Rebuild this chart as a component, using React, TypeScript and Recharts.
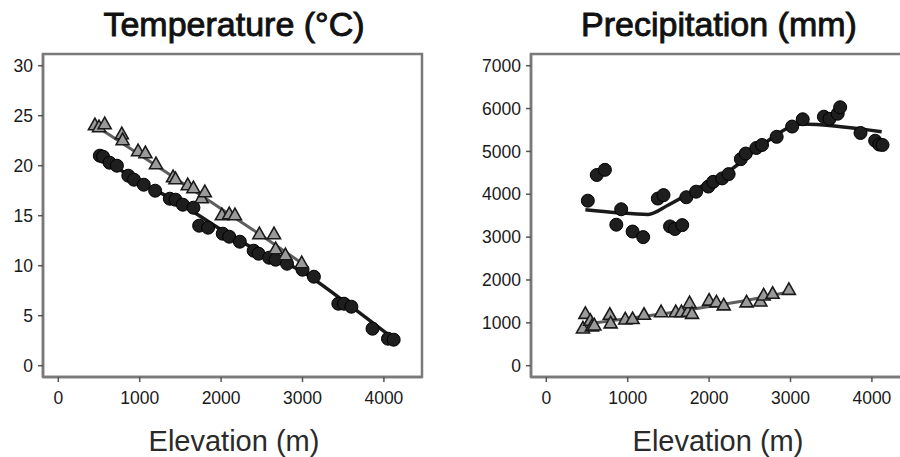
import React from 'react';
import { ComposedChart, Scatter, Line, XAxis, YAxis, ReferenceArea } from 'recharts';

// ---- Temperature panel data ----
const tempCircleElev = [510, 550, 630, 720, 860, 930, 1050, 1190, 1370, 1440, 1530, 1660, 1730, 1840, 2020, 2100, 2230, 2400, 2460, 2590, 2670, 2810, 3000, 3140, 3440, 3510, 3600, 3860, 4050, 4120];
const tempCircleVal = [21.0, 20.9, 20.3, 20.0, 19.0, 18.6, 18.1, 17.5, 16.7, 16.6, 16.1, 15.8, 14.0, 13.8, 13.2, 12.9, 12.4, 11.5, 11.2, 10.8, 10.6, 10.2, 9.6, 8.9, 6.2, 6.2, 5.9, 3.7, 2.7, 2.6];
const tempTriElev = [450, 500, 570, 780, 790, 980, 1070, 1200, 1410, 1440, 1590, 1660, 1760, 1800, 2010, 2100, 2170, 2470, 2650, 2670, 2790, 2990];
const tempTriVal = [24.1, 23.9, 24.2, 23.2, 22.6, 21.5, 21.3, 20.2, 18.9, 18.7, 18.1, 17.8, 16.8, 17.4, 15.1, 15.2, 15.1, 13.2, 13.2, 11.7, 11.1, 10.3];
const tempCircleFitElev = [490, 1000, 1500, 2000, 2500, 3000, 3500, 4150];
const tempCircleFitVal = [21.0, 18.4, 16.2, 13.6, 11.3, 9.4, 6.5, 2.5];
const tempTriFitElev = [440, 1000, 1500, 2000, 2500, 3000];
const tempTriFitVal = [24.1, 21.1, 18.4, 15.7, 13.0, 10.2];

// ---- Precipitation panel data ----
const precCircleElev = [510, 620, 720, 860, 920, 1060, 1190, 1370, 1440, 1520, 1580, 1670, 1720, 1840, 1990, 2050, 2160, 2240, 2390, 2450, 2580, 2650, 2830, 3020, 3150, 3410, 3480, 3580, 3610, 3860, 4040, 4090, 4130];
const precCircleVal = [3850, 4450, 4570, 3290, 3650, 3130, 3000, 3900, 3980, 3250, 3190, 3280, 3930, 4060, 4180, 4290, 4370, 4470, 4820, 4950, 5080, 5150, 5340, 5580, 5750, 5810, 5760, 5880, 6030, 5430, 5250, 5160, 5150];
const precTriElev = [450, 480, 540, 560, 590, 780, 790, 970, 1060, 1200, 1410, 1590, 1660, 1740, 1760, 1790, 2000, 2090, 2180, 2460, 2630, 2670, 2780, 2980];
const precTriVal = [880, 1220, 1060, 930, 950, 1200, 1000, 1090, 1100, 1200, 1260, 1260, 1260, 1270, 1470, 1220, 1530, 1490, 1420, 1490, 1510, 1650, 1690, 1780];
const precCircleFitElev = [480, 870, 1250, 1500, 1900, 2250, 2650, 3150, 3650, 4120];
const precCircleFitVal = [3640, 3570, 3530, 3750, 4180, 4550, 5150, 5640, 5570, 5460];
const precTriFitElev = [440, 1000, 1500, 2000, 2500, 3000];
const precTriFitVal = [960, 1100, 1230, 1380, 1540, 1730];

// ---- Axis ticks / labels ----
const elevTicks = [0, 1000, 2000, 3000, 4000];
const tempTicks = [0, 5, 10, 15, 20, 25, 30];
const precTicks = [0, 1000, 2000, 3000, 4000, 5000, 6000, 7000];
const titles = ['Temperature (°C)', 'Precipitation (mm)'];
const xLabel = 'Elevation (m)';

const zip = (xs: number[], ys: number[]) => xs.map((x, i) => ({ x, y: ys[i] }));

const FONT = '"Liberation Sans", Arial, Helvetica, sans-serif';
const AXIS_GRAY = '#7a7a7a';

const CircleShape = (p: any) => (
  <circle cx={p.cx} cy={p.cy} r={6.5} fill="#1e1e1e" stroke="#000" strokeWidth={1} />
);
const TriShape = (p: any) => (
  <path
    d={`M${p.cx},${p.cy - 6.5}L${p.cx + 6.5},${p.cy + 5}L${p.cx - 6.5},${p.cy + 5}Z`}
    fill="#9a9a9a"
    stroke="#1a1a1a"
    strokeWidth={1.6}
  />
);

const X_DOMAIN: [number, number] = [-188, 4468];

interface PanelProps {
  left: number;
  yWidth: number;
  yDomain: [number, number];
  yTicks: number[];
  circles: { x: number; y: number }[];
  tris: { x: number; y: number }[];
  circleFit: { x: number; y: number }[];
  triFit: { x: number; y: number }[];
  rightMargin: number;
}

const tickStyle = { fontSize: 17.5, fill: '#1a1a1a', fontFamily: FONT };

function Panel(props: PanelProps) {
  const { left, yWidth, yDomain, yTicks, circles, tris, circleFit, triFit, rightMargin } = props;
  return (
    <div style={{ position: 'absolute', left, top: 0 }}>
      <ComposedChart
        width={yWidth + 379 + rightMargin}
        height={457}
        margin={{ top: 54, right: rightMargin, bottom: 50, left: 0 }}
      >
        <XAxis
          type="number"
          dataKey="x"
          domain={X_DOMAIN}
          ticks={elevTicks}
          allowDataOverflow
          height={30}
          tick={tickStyle}
          tickSize={5}
          tickMargin={10}
          axisLine={{ stroke: AXIS_GRAY, strokeWidth: 2.5 }}
          tickLine={{ stroke: '#555', strokeWidth: 1.5 }}
        />
        <YAxis
          type="number"
          dataKey="y"
          domain={yDomain}
          ticks={yTicks}
          allowDataOverflow
          width={yWidth}
          tick={tickStyle}
          tickSize={5}
          tickMargin={5}
          axisLine={{ stroke: AXIS_GRAY, strokeWidth: 2.5 }}
          tickLine={{ stroke: '#555', strokeWidth: 1.5 }}
        />
        <ReferenceArea
          x1={X_DOMAIN[0]}
          x2={X_DOMAIN[1]}
          y1={yDomain[0]}
          y2={yDomain[1]}
          fill="none"
          stroke={AXIS_GRAY}
          strokeWidth={2.5}
          ifOverflow="visible"
        />
        <Line
          data={triFit}
          dataKey="y"
          type="monotone"
          stroke="#5e5e5e"
          strokeWidth={3}
          dot={false}
          activeDot={false}
          isAnimationActive={false}
        />
        <Line
          data={circleFit}
          dataKey="y"
          type="monotone"
          stroke="#1a1a1a"
          strokeWidth={3.5}
          dot={false}
          activeDot={false}
          isAnimationActive={false}
        />
        <Scatter data={circles} dataKey="y" shape={CircleShape} isAnimationActive={false} />
        <Scatter data={tris} dataKey="y" shape={TriShape} isAnimationActive={false} />
      </ComposedChart>
    </div>
  );
}

export default function App() {
  return (
    <div
      style={{
        position: 'absolute',
        left: 0,
        top: 0,
        width: 900,
        height: 457,
        overflow: 'hidden',
        background: '#fff',
        fontFamily: FONT,
      }}
    >
      <Panel
        left={0}
        yWidth={43}
        rightMargin={18}
        yDomain={[-1.13, 31.17]}
        yTicks={tempTicks}
        circles={zip(tempCircleElev, tempCircleVal)}
        tris={zip(tempTriElev, tempTriVal)}
        circleFit={zip(tempCircleFitElev, tempCircleFitVal)}
        triFit={zip(tempTriFitElev, tempTriFitVal)}
      />
      <Panel
        left={470}
        yWidth={61}
        rightMargin={0}
        yDomain={[-264, 7273]}
        yTicks={precTicks}
        circles={zip(precCircleElev, precCircleVal)}
        tris={zip(precTriElev, precTriVal)}
        circleFit={zip(precCircleFitElev, precCircleFitVal)}
        triFit={zip(precTriFitElev, precTriFitVal)}
      />
      <svg
        width={900}
        height={457}
        style={{ position: 'absolute', left: 0, top: 0, pointerEvents: 'none' }}
      >
        <text x={234} y={36} textAnchor="middle" fontSize={34} fill="#111" stroke="#111" strokeWidth={0.9} fontFamily={FONT}>
          {titles[0]}
        </text>
        <text x={719} y={36} textAnchor="middle" fontSize={34} fill="#111" stroke="#111" strokeWidth={0.9} fontFamily={FONT}>
          {titles[1]}
        </text>
        <text x={234} y={451} textAnchor="middle" fontSize={29} fill="#2a2a2a" fontFamily={FONT}>
          {xLabel}
        </text>
        <text x={718} y={451} textAnchor="middle" fontSize={29} fill="#2a2a2a" fontFamily={FONT}>
          {xLabel}
        </text>
      </svg>
    </div>
  );
}
